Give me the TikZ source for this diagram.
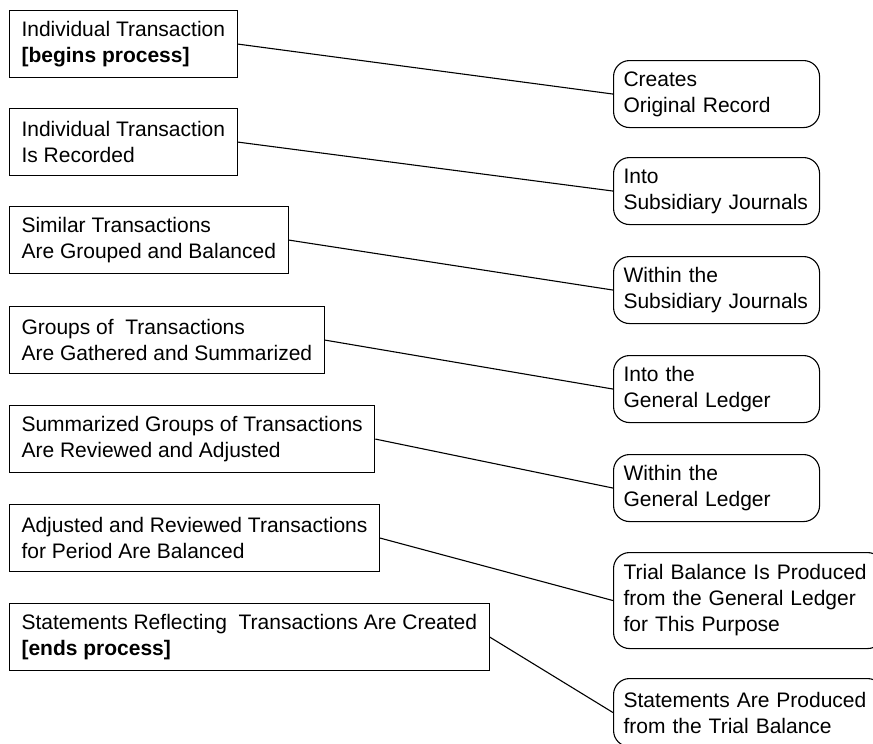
\documentclass[tikz,border=0pt]{standalone}
\usepackage{fontspec}
\setmainfont{Liberation Sans}
\tikzset{
    stepbox/.style={draw, line width=1.1pt, anchor=north west, align=left,
        inner xsep=12pt, minimum height=67pt, font=\fontsize{21}{26}\selectfont},
    resultbox/.style={draw, line width=1.1pt, rounded corners=16pt, anchor=north west,
        align=left, text width=186pt, inner xsep=10pt, minimum height=67pt,
        font=\fontsize{21}{26}\selectfont},
    link/.style={line width=1.1pt}
}
\begin{document}
\begin{tikzpicture}[x=1pt,y=-1pt]
    \useasboundingbox (0,0) rectangle (873,744);

    % what happens to the transaction
    \node[stepbox] (step1) at (9,10) {Individual Transaction\\\textbf{[begins process]}};
    \node[stepbox] (step2) at (9,108) {Individual Transaction\\Is Recorded};
    \node[stepbox] (step3) at (9,206) {Similar Transactions\\Are Grouped and Balanced};
    \node[stepbox] (step4) at (9,306) {Groups of~ Transactions\\Are Gathered and Summarized};
    \node[stepbox] (step5) at (9,405) {Summarized Groups of Transactions\\Are Reviewed and Adjusted};
    \node[stepbox] (step6) at (9,504) {Adjusted and Reviewed Transactions\\for Period Are Balanced};
    \node[stepbox] (step7) at (9,603) {Statements Reflecting~ Transactions Are Created\\\textbf{[ends process]}};

    % where it happens
    \node[resultbox] (where1) at (613,60) {Creates\\Original Record};
    \node[resultbox] (where2) at (613,157) {Into\\Subsidiary Journals};
    \node[resultbox] (where3) at (613,256) {Within the\\Subsidiary Journals};
    \node[resultbox] (where4) at (613,355) {Into the\\General Ledger};
    \node[resultbox] (where5) at (613,454) {Within the\\General Ledger};
    \node[resultbox, text width=250pt, minimum height=96pt] (where6) at (613,552) {Trial Balance Is Produced\\from the General Ledger\\for This Purpose};
    \node[resultbox, text width=250pt, minimum height=68pt] (where7) at (613,678) {Statements Are Produced\\from the Trial Balance};

    \draw[link] (step1.east) -- (where1.west);
    \draw[link] (step2.east) -- (where2.west);
    \draw[link] (step3.east) -- (where3.west);
    \draw[link] (step4.east) -- (where4.west);
    \draw[link] (step5.east) -- (where5.west);
    \draw[link] (step6.east) -- (where6.west);
    \draw[link] (step7.east) -- (where7.west);
\end{tikzpicture}
\end{document}
